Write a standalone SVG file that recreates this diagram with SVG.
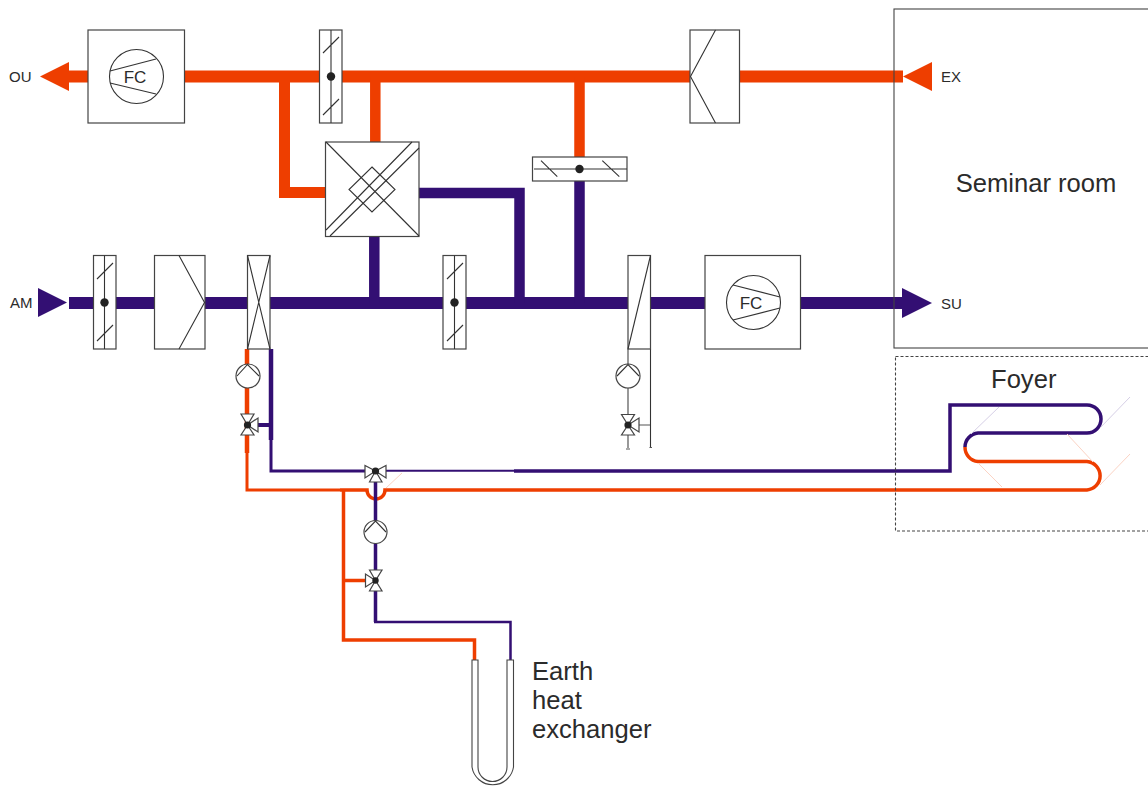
<svg xmlns="http://www.w3.org/2000/svg" width="1148" height="787" viewBox="0 0 1148 787">
<style>
.o{fill:none;stroke:#ee3e00;stroke-linejoin:miter}
.b{fill:none;stroke:#330f73;stroke-linejoin:miter}
.of{fill:#ee3e00}.bf{fill:#330f73}
.box{fill:#fff;stroke:#444;stroke-width:1.2}
.ln{fill:none;stroke:#333;stroke-width:1.1}
.tube{fill:none;stroke:#444;stroke-width:1.1}
.gl{fill:none;stroke:#555;stroke-width:1.2}
.dot{fill:#222}
.lo{fill:none;stroke:#fbd3c4;stroke-width:1}
.lb{fill:none;stroke:#d6cfe6;stroke-width:1}
text{font-family:"Liberation Sans",Arial,sans-serif;fill:#2b2b2b}
.s{font-size:15px}.l{font-size:25.6px}.m{font-size:17px}
</style>
<g id="connectors">
<path class="o" stroke-width="12" d="M66 76.500H903"/>
<path class="o" stroke-width="11" d="M284.500 77V192.500H330"/>
<path class="o" stroke-width="10.500" d="M375.300 77V146M579.500 77V160"/>
<path class="b" stroke-width="12" d="M69 303H905"/>
<path class="b" stroke-width="10.500" d="M374.300 232V303M579.500 178V303"/>
<path class="b" stroke-width="10.500" d="M415 193H519.500V303"/>
<path class="o" stroke-width="4.500" d="M247 349V453"/>
<path class="o" stroke-width="3" d="M247 453V490H340"/>
<path class="o" stroke-width="3.500" d="M340 490H367A9 9 0 0 0 385 490H1087A14.300 14.300 0 0 0 1087 461.500H978A14.300 14.300 0 0 1 965 447"/>
<path class="b" stroke-width="3.500" d="M965 447A14.300 14.300 0 0 1 978 433H1087A14 14 0 0 0 1087 405H950V471H514"/>
<path class="b" stroke-width="2" d="M514 470.700H386"/>
<path class="b" stroke-width="4.500" d="M271 349V440"/>
<path class="b" stroke-width="3" d="M271 440V471H366"/>
<path class="b" stroke-width="4" d="M258 425H271"/>
<path class="b" stroke-width="3.500" d="M375.500 471V622"/>
<path class="b" stroke-width="2.500" d="M374 622H510.500V660"/>
<path class="o" stroke-width="3.500" d="M343.500 490V640H474.500V660M343.500 580.500H366"/>
<path class="lo" d="M386 488L402 473M978 463L1002 487M1067 434L1093 462M1100 485L1130 454"/>
<path class="lb" d="M971 434L999 407M1100 428L1130 397"/>
<path class="gl" d="M628 349V448M638 425H651"/>
<path class="ln" d="M650.500 349V448"/>
<path class="gl" d="M626 449H630M649.500 447.500H652"/>
</g>
<g id="arrow-ou"><polygon class="of" points="40,76.500 69,62 69,91"/></g>
<g id="arrow-ex"><polygon class="of" points="903,76.500 932,62 932,91"/></g>
<g id="arrow-am"><polygon class="bf" points="38,288 67,302.500 38,317"/></g>
<g id="arrow-su"><polygon class="bf" points="902,288 932,303 902,318"/></g>
<g id="fan-top">
<rect class="box" x="88" y="30" width="96.500" height="93"/>
<circle class="ln" cx="136.500" cy="76.500" r="27"/>
<path class="ln" d="M110 71L156 59M110 83L156 94"/>
<text class="m" x="135" y="82.500" text-anchor="middle">FC</text>
</g>
<g id="damper-top">
<rect class="box" x="319.500" y="30" width="22.500" height="93"/>
<path class="ln" d="M331 30V123M323 53L339 37M323 115L339 99"/>
<circle class="dot" cx="331" cy="76.500" r="4.200"/>
</g>
<g id="heat-recovery">
<rect class="box" x="325.500" y="142" width="93.500" height="94.500"/>
<path class="ln" d="M326 142L419 236M326 230L412 142M330 236L419 148M372 167L395 189.500L372 212L349 189.500Z"/>
</g>
<g id="damper-bypass">
<rect class="box" x="532.500" y="157" width="94.500" height="24"/>
<path class="ln" d="M534 169H627M541 160.700L557.300 176.700M602.300 160.700L619.300 176.700"/>
<circle class="dot" cx="579.500" cy="169" r="4.200"/>
</g>
<g id="filter-top">
<rect class="box" x="690" y="30" width="49.500" height="93"/>
<path class="ln" d="M715.500 30L690.500 76.500L715.500 123"/>
</g>
<g id="seminar-room">
<rect x="894" y="9" width="260" height="339" fill="none" stroke="#444" stroke-width="1.100"/>
<text class="l" x="1036" y="192" text-anchor="middle">Seminar room</text>
</g>
<g id="foyer">
<rect x="895.500" y="356.500" width="260" height="174.500" fill="none" stroke="#444" stroke-width="1.100" stroke-dasharray="3 2"/>
<text class="l" x="991" y="388">Foyer</text>
</g>
<g id="damper-am">
<rect class="box" x="93.500" y="255.500" width="22.500" height="93.500"/>
<path class="ln" d="M104.500 255.500V349M97 279L113 263M97 341L113 325"/>
<circle class="dot" cx="104.500" cy="302.500" r="4.200"/>
</g>
<g id="filter-am">
<rect class="box" x="154.500" y="255.500" width="50.500" height="93.500"/>
<path class="ln" d="M179 255.500L204.500 302.500L179 349"/>
</g>
<g id="coil-preheat">
<rect class="box" x="247.500" y="255.500" width="22.500" height="93.500"/>
<path class="ln" d="M247.500 255.500L270 349M270 255.500L247.500 349"/>
</g>
<g id="damper-mid">
<rect class="box" x="443" y="255.500" width="23" height="93.500"/>
<path class="ln" d="M454.500 255.500V349M447 279L463 263M447 341L463 325"/>
<circle class="dot" cx="454.500" cy="302.500" r="4.200"/>
</g>
<g id="coil-reheat">
<rect class="box" x="628" y="255.500" width="22.500" height="93.500"/>
<path class="ln" d="M650.500 255.500L628 349"/>
</g>
<g id="fan-bottom">
<rect class="box" x="705" y="255.500" width="95.500" height="93.500"/>
<circle class="ln" cx="753.500" cy="302.500" r="27"/>
<path class="ln" d="M733 285L780 297M733 320L780 308"/>
<text class="m" x="751" y="308.500" text-anchor="middle">FC</text>
</g>
<g id="pump-1">
<circle class="box" cx="248" cy="376" r="12"/>
<path class="ln" d="M237 376L247.500 364.500L259 376"/>
</g>
<g id="valve-1">
<path class="box" d="M247.500 425L241 414H254ZM247.500 425L241 435H254ZM247.500 425L258 418V432Z"/>
<circle class="dot" cx="247.500" cy="425" r="3.600"/>
</g>
<g id="pump-2">
<circle class="box" cx="628" cy="376" r="12"/>
<path class="ln" d="M617 376L628 364.500L639 376"/>
</g>
<g id="valve-2">
<path class="box" d="M628 425L621.500 414.500H634.500ZM628 425L621.500 435H634.500ZM628 425L639 418V432Z"/>
<circle class="dot" cx="628" cy="425" r="3.600"/>
</g>
<g id="valve-3">
<path class="box" d="M375.500 471L365 465.500V478ZM375.500 471L386 465.500V478ZM375.500 471L369.500 482H382Z"/>
<circle class="dot" cx="375.500" cy="471" r="3.600"/>
</g>
<g id="pump-3">
<circle class="box" cx="375.500" cy="532" r="11.500"/>
<path class="ln" d="M365 532L375.500 521L386 532"/>
</g>
<g id="valve-4">
<path class="box" d="M375.500 580.500L369.500 570H382ZM375.500 580.500L369.500 591H382ZM375.500 580.500L365.500 574V587Z"/>
<circle class="dot" cx="375.500" cy="580.500" r="3.200"/>
</g>
<g id="earth-heat-exchanger">
<path class="tube" d="M472 660H478V767A14.500 14.500 0 0 0 507 767V660H513.500V767A21 21 0 0 1 472 767Z"/>
<text class="l"><tspan x="532" y="680">Earth</tspan><tspan x="532" y="709">heat</tspan><tspan x="532" y="738">exchanger</tspan></text>
</g>
<g id="labels">
<text class="s" x="9" y="82">OU</text>
<text class="s" x="941" y="82">EX</text>
<text class="s" x="10" y="308">AM</text>
<text class="s" x="941" y="309">SU</text>
</g>
</svg>
